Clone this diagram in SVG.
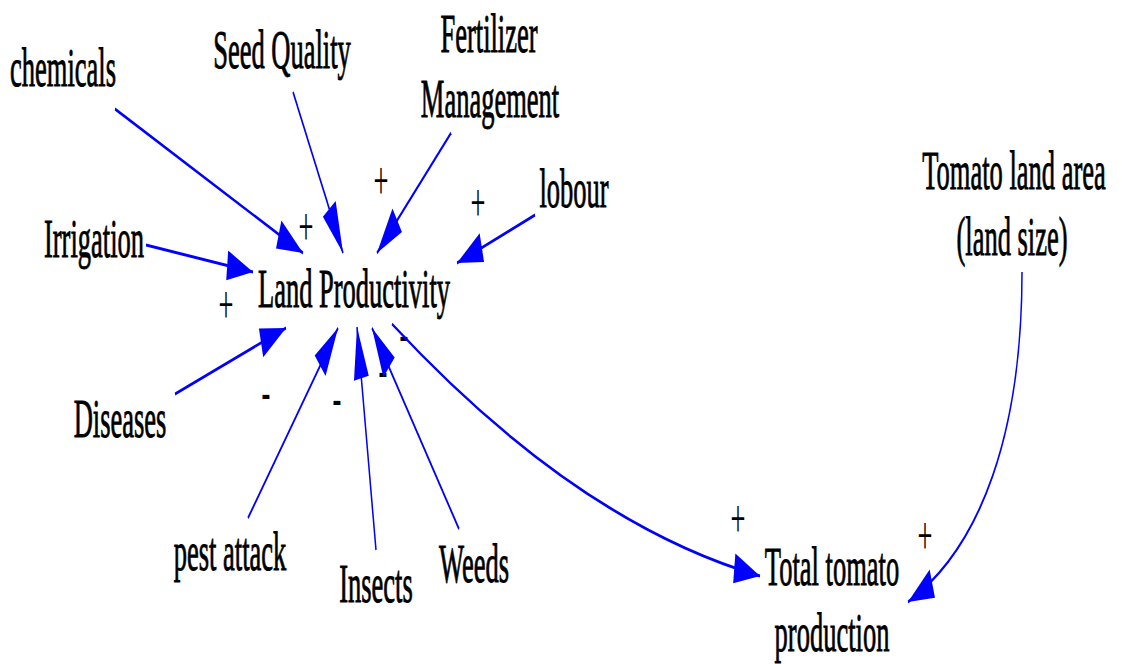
<svg xmlns="http://www.w3.org/2000/svg" width="1122" height="664" viewBox="0 0 1122 664">
  <style>
    .lbl { font-family: "Liberation Serif", "Times New Roman", serif; font-size: 26.5px; fill: #000; stroke: #000; stroke-width: 0.45; text-anchor: middle; }
    .sign { font-family: "Liberation Serif", "Times New Roman", serif; font-size: 26.5px; fill: #000; text-anchor: middle; }
    .link { fill: none; stroke: #0000ff; stroke-width: 1.5; marker-end: url(#head); }
  </style>
  <defs>
    <!-- arrowhead drawn in the half-height link space, so it stretches with the links -->
    <marker id="head" markerUnits="userSpaceOnUse" orient="auto" refX="0" refY="0" markerWidth="30" markerHeight="20" overflow="visible">
      <path d="M0,0 L-26,-7.5 L-26,7.5 Z" fill="#0000ff"/>
    </marker>
  </defs>
  <rect width="1122" height="664" fill="#ffffff"/>

  <!-- link polarities -->
  <g id="polarity">
    <text class="sign" transform="translate(306,245) scale(1,2.1)">+</text>
    <text class="sign" transform="translate(381,199) scale(1,2.1)">+</text>
    <text class="sign" transform="translate(478,221) scale(1,2.1)">+</text>
    <text class="sign" transform="translate(226,323) scale(1,2.1)">+</text>
    <text class="sign" transform="translate(266,410) scale(1,2.1)">-</text>
    <text class="sign" transform="translate(337,416) scale(1,2.1)">-</text>
    <text class="sign" transform="translate(383,388) scale(1,2.1)">-</text>
    <text class="sign" transform="translate(404,352) scale(1,2.1)">-</text>
    <text class="sign" transform="translate(738,537) scale(1,2.1)">+</text>
    <text class="sign" transform="translate(925,554) scale(1,2.1)">+</text>
  </g>

  <!-- causal links (y halved, stretched back by the group) -->
  <g id="connectors" transform="scale(1,2)">
    <path class="link" d="M115,54.5 L303,126.5"/>
    <path class="link" d="M293,46 L343,126.5"/>
    <path class="link" d="M451,66.5 L377,126.5"/>
    <path class="link" d="M535,107.5 L457,131.5"/>
    <path class="link" d="M146,122.5 L253,136"/>
    <path class="link" d="M175,197 L286,164"/>
    <path class="link" d="M248,259 L338,164"/>
    <path class="link" d="M376,275 L357,163.5"/>
    <path class="link" d="M459,264.5 L372,164"/>
    <path class="link" d="M392,162 Q576,261 760,288"/>
    <path class="link" d="M1022,136 C1022,216 981.5,273.25 908,301"/>
  </g>

  <!-- variables -->
  <g id="chemicals"><text class="lbl" transform="translate(63,86) scale(1,2.1)">chemicals</text></g>
  <g id="seed-quality"><text class="lbl" transform="translate(282,68) scale(1,2.1)">Seed Quality</text></g>
  <g id="fertilizer-management">
    <text class="lbl" transform="translate(489,52) scale(1,2.1)">Fertilizer</text>
    <text class="lbl" transform="translate(490,117) scale(1,2.1)">Management</text>
  </g>
  <g id="lobour"><text class="lbl" transform="translate(574,207) scale(1,2.1)">lobour</text></g>
  <g id="irrigation"><text class="lbl" transform="translate(94,257) scale(1,2.1)">Irrigation</text></g>
  <g id="land-productivity"><text class="lbl" transform="translate(354,307) scale(1,2.1)">Land Productivity</text></g>
  <g id="diseases"><text class="lbl" transform="translate(120,437) scale(1,2.1)">Diseases</text></g>
  <g id="pest-attack"><text class="lbl" transform="translate(230,570) scale(1,2.1)">pest attack</text></g>
  <g id="insects"><text class="lbl" transform="translate(376,602) scale(1,2.1)">Insects</text></g>
  <g id="weeds"><text class="lbl" transform="translate(474,582) scale(1,2.1)">Weeds</text></g>
  <g id="tomato-land-area">
    <text class="lbl" transform="translate(1014,189) scale(1,2.1)">Tomato land area</text>
    <text class="lbl" transform="translate(1012,255) scale(1,2.1)">(land size)</text>
  </g>
  <g id="total-tomato-production">
    <text class="lbl" transform="translate(832,585) scale(1,2.1)">Total tomato</text>
    <text class="lbl" transform="translate(832,651) scale(1,2.1)">production</text>
  </g>
</svg>
